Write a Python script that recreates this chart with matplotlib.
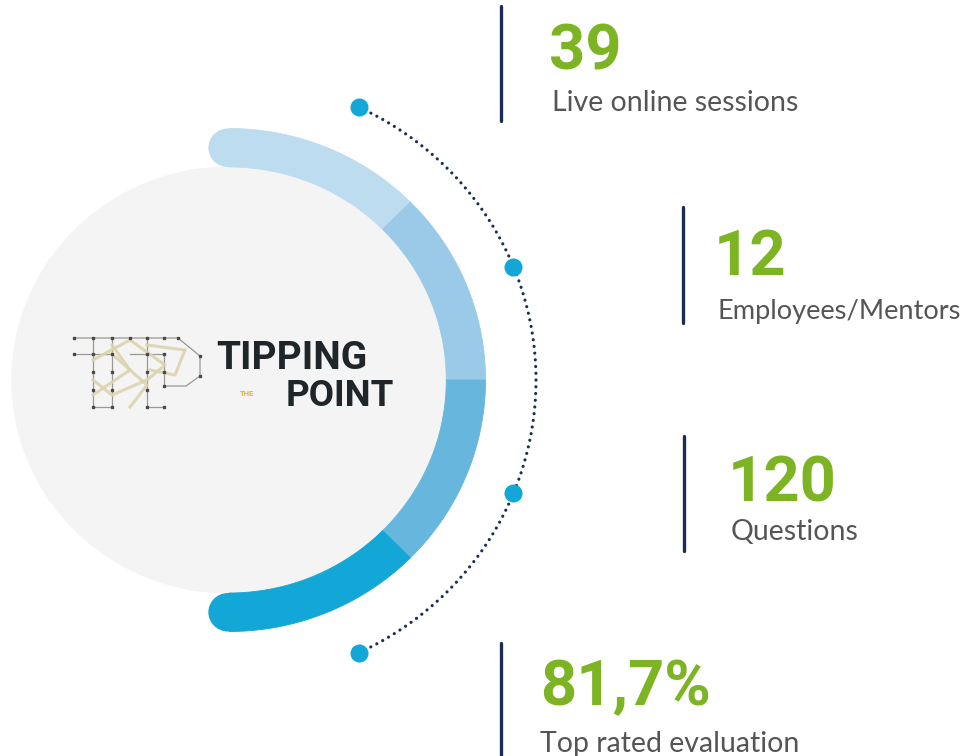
import numpy as np
import matplotlib
matplotlib.use("Agg")
import matplotlib.pyplot as plt
from matplotlib.patches import Polygon, Ellipse

# ---------------- data ----------------
stat_values = ["39", "12", "120", "81,7%"]
stat_labels = ["Live online sessions", "Employees/Mentors", "Questions", "Top rated evaluation"]
ring_shares = [1, 1, 1, 1]                      # four equal arc segments
ring_colors = ["#BEDCEF", "#9BCAE8", "#67B6DE", "#12A7D6"]
dot_angles = [65.0, 22.1, -22.1, -65.0]          # degrees, markers on dotted arc

# layout (pixel coordinates, y downward)
W, H = 966, 756
cx, cy = 229, 380
sx = 1.02                 # slight horizontal stretch of the reference graphic
r_circle = 213.5
r_out, ring_w = 251.5, 38.5
r_dots = 301
GREEN = "#7DB424"
GREY = "#555555"
NAVY = "#1C2D55"
BLUE = "#12A7D6"

fig = plt.figure(figsize=(W / 100, H / 100), dpi=100)
ax = fig.add_axes([0, 0, 1, 1])
ax.set_xlim(0, W)
ax.set_ylim(H, 0)
ax.axis("off")


def pt(r, a):
    t = np.deg2rad(a)
    return cx + sx * r * np.cos(t), cy - r * np.sin(t)


def arc(r, a0, a1, n=200):
    a = np.linspace(a0, a1, n)
    x, y = pt(r, a)
    return np.column_stack([x, y])


# grey disc
ax.add_patch(Ellipse((cx, cy), 2 * r_circle * sx, 2 * r_circle,
                     facecolor="#F4F4F4", edgecolor="none", zorder=1))

# ring segments (visual angles from +90 down to -90)
total = sum(ring_shares)
start = 90.0
r_in = r_out - ring_w
for share, col in zip(ring_shares, ring_colors):
    end = start - 180.0 * share / total
    poly = np.vstack([arc(r_out, start, end), arc(r_in, end, start)])
    ax.add_patch(Polygon(poly, closed=True, facecolor=col, edgecolor=col, lw=0.6, zorder=2))
    start = end
# rounded caps
r_mid = r_out - ring_w / 2
for a, col in [(90, ring_colors[0]), (-90, ring_colors[-1])]:
    x, y = pt(r_mid, a)
    ax.add_patch(Ellipse((x - 1, y), ring_w * sx, ring_w,
                         facecolor=col, edgecolor="none", zorder=2))

# dotted arc
d = arc(r_dots, max(dot_angles), min(dot_angles), 400)
ax.plot(d[:, 0], d[:, 1], color=NAVY, lw=2.3,
        linestyle=(0, (0.01, 2.1)), dash_capstyle="round", zorder=3)
for a in dot_angles:
    x, y = pt(r_dots, a)
    ax.plot(x, y, "o", ms=13, color=BLUE, mec="none", zorder=4)

# stats text blocks
bars_x = [501, 683, 684, 501]
bars_y = [(6, 121), (207, 323), (436, 551), (643, 760)]
num_pos = [(549, 69), (714, 275), (728, 502), (540, 705)]
lab_pos = [(552, 111), (718, 319), (731, 540), (540, 752)]
lab_size = [20.5, 19.6, 20.5, 20.5]
for i in range(4):
    ax.plot([bars_x[i], bars_x[i]], bars_y[i], color=NAVY, lw=2.4,
            solid_capstyle="round", zorder=3)
    ax.text(*num_pos[i], stat_values[i], color=GREEN, fontsize=45.5,
            fontweight="bold", family="Roboto", va="baseline", ha="left")
    ax.text(*lab_pos[i], stat_labels[i], color=GREY, fontsize=lab_size[i],
            family="Lato", va="baseline", ha="left")

# ---- logo (decorative) ----
ax.text(216, 369, "TIPPING", family="Roboto", fontweight="bold", fontsize=28,
        color="#1F2629", va="baseline", ha="left", zorder=5)
ax.text(286, 406, "POINT", family="Roboto", fontweight="bold", fontsize=26.5,
        color="#1F2629", va="baseline", ha="left", zorder=5)
ax.text(240, 396, "THE", family="Roboto", fontweight="bold", fontsize=5.5,
        color="#E0B040", va="baseline", ha="left", zorder=5)
tan = "#DCD3AE"
dk = "#4A4A4A"
segs = [
    [(74, 338), (178, 338), (200, 356), (200, 376), (186, 386), (164, 386)],
    [(74, 354), (112, 354)], [(93, 338), (93, 407)], [(93, 407), (112, 407)],
    [(112, 338), (112, 407)], [(147, 338), (147, 407)], [(130, 354), (165, 354)],
    [(147, 407), (164, 407)], [(164, 354), (164, 386)],
]
for s in segs:
    xs, ys = zip(*s)
    ax.plot(xs, ys, color="#9A9A90", lw=0.9, zorder=5)
diags = [
    [(93, 360), (130, 340), (165, 365), (147, 380), (112, 395), (93, 380)],
    [(112, 354), (147, 385), (130, 407)],
    [(147, 345), (185, 350), (175, 375), (150, 370)],
    [(93, 395), (130, 370), (112, 345)],
]
for s in diags:
    xs, ys = zip(*s)
    ax.plot(xs, ys, color=tan, lw=2.2, zorder=5, alpha=0.9)
nodes = [(74, 338), (93, 338), (112, 338), (130, 338), (147, 338), (164, 338), (178, 338),
         (74, 354), (93, 354), (112, 354), (147, 354), (164, 354), (200, 356),
         (93, 372), (112, 372), (147, 372), (164, 372), (200, 376),
         (93, 390), (112, 390), (147, 390), (164, 386),
         (93, 407), (112, 407), (147, 407), (164, 407)]
nx, ny = zip(*nodes)
ax.plot(nx, ny, "s", ms=2.0, color=dk, zorder=6)

fig.savefig("out.png", dpi=100, facecolor="white")
